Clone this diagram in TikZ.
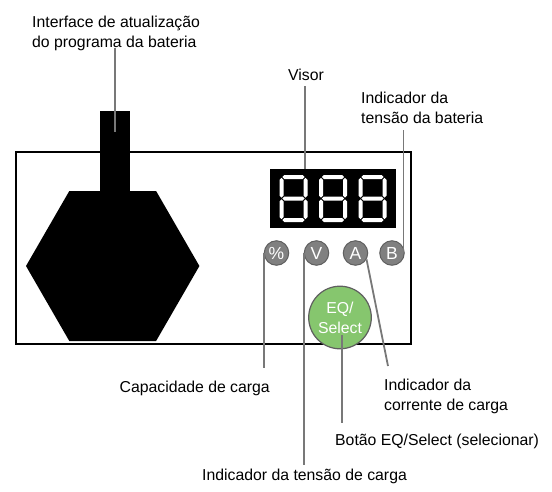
\documentclass[tikz,border=0pt]{standalone}
\usepackage{fontspec}
\setmainfont{Liberation Sans}
\definecolor{leadgray}{RGB}{120,120,120}
\definecolor{indgray}{RGB}{128,128,128}
\definecolor{indedge}{RGB}{95,95,95}
\definecolor{eqgreen}{RGB}{134,198,110}
\begin{document}
\begin{tikzpicture}[x=1pt,y=-1pt,
  font=\fontsize{15.8}{20}\selectfont,
  lbl/.style={inner sep=0pt, align=left, text=black},
  leader/.style={draw=leadgray, line width=1.8pt},
  ind/.style={circle, fill=indgray, draw=indedge, line width=1pt, minimum size=24.5pt,
    inner sep=0pt, text=white, font=\fontsize{17.5}{17.5}\selectfont},
  sevenseg/.pic={
    \fill[white] (2.8,2) -- (4.8,0) -- (23.2,0) -- (25.2,2) -- (23.2,4) -- (4.8,4) -- cycle;
    \fill[white] (2.8,23.5) -- (4.8,21.5) -- (23.2,21.5) -- (25.2,23.5) -- (23.2,25.5) -- (4.8,25.5) -- cycle;
    \fill[white] (2.8,45) -- (4.8,43) -- (23.2,43) -- (25.2,45) -- (23.2,47) -- (4.8,47) -- cycle;
    \foreach \xc in {2,26}{
      \fill[white] (\xc,2.8) -- (\xc+2,4.8) -- (\xc+2,20.7) -- (\xc,22.7) -- (\xc-2,20.7) -- (\xc-2,4.8) -- cycle;
      \fill[white] (\xc,24.3) -- (\xc+2,26.3) -- (\xc+2,42.2) -- (\xc,44.2) -- (\xc-2,42.2) -- (\xc-2,26.3) -- cycle;
    }
  }
]
\useasboundingbox (0,0) rectangle (552,491);

% main housing
\draw[line width=2pt] (16,152) rectangle (411,344);

% connector tab and hexagon
\fill (100,111) rectangle (130,192);
\fill (26,266) -- (69.3,191) -- (156.1,191) -- (199.4,266) -- (156.1,341) -- (69.3,341) -- cycle;

% display
\node[fill=black, minimum width=126pt, minimum height=59pt, inner sep=0pt] (disp) at (333,198.5) {};
\pic at (279.5,175) {sevenseg};
\pic at (319,175) {sevenseg};
\pic at (358.5,175) {sevenseg};

% indicators
\node[ind] (pct) at (276.5,253) {\%};
\node[ind] (volt) at (316.5,253) {V};
\node[ind] (amp) at (355.5,253) {A};
\node[ind] (batt) at (392,253) {B};

% EQ/Select button
\node[circle, fill=eqgreen, draw=indedge, line width=1.2pt, minimum size=62.6pt, inner sep=0pt,
  text=white, align=center, font=\fontsize{15.8}{20}\selectfont] (eq) at (340,317.5) {EQ/\\Select};

% labels
\node[lbl, anchor=west] (ifl) at (32,33) {Interface de atualização\\do programa da bateria};
\node[lbl] (visl) at (306,75) {Visor};
\node[lbl, anchor=west] (battl) at (361,108) {Indicador da\\tensão da bateria};
\node[lbl, anchor=east] (capl) at (270,388) {Capacidade de carga};
\node[lbl, anchor=west] (ampl) at (384,396.5) {Indicador da\\corrente de carga};
\node[lbl, anchor=west] (eql) at (335,441) {Botão EQ/Select (selecionar)};
\node[lbl, anchor=west] (voltl) at (202,476) {Indicador da tensão de carga};

% leader end points
\coordinate (iftip) at (115,132);
\coordinate (iftop) at (115,48);
\coordinate (vistop) at (305,86);
\coordinate (btop) at (403.5,130);
\coordinate (capend) at (264.5,368);
\coordinate (voltend) at (305,465);
\coordinate (ampend) at (388,366);
\coordinate (eqin) at (342,335);
\coordinate (eqend) at (342,423);

% leaders
\draw[leader] (iftop) -- (iftip);
\draw[leader] (vistop) -- (vistop |- disp.north);
\draw[leader] (btop) -- (btop |- batt.east);
\draw[leader] (pct.west) -- (pct.west |- capend);
\draw[leader] (volt.west) -- (volt.west |- voltend);
\draw[leader] (amp.-30) -- (ampend);
\draw[leader] (eqin) -- (eqend);
\end{tikzpicture}
\end{document}
